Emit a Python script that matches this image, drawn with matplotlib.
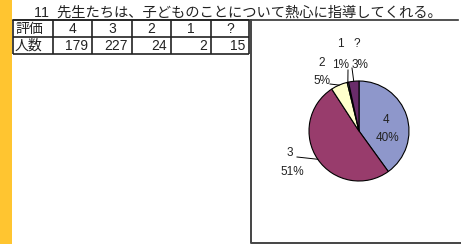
import matplotlib.pyplot as plt
from matplotlib.patches import Rectangle
import numpy as np

plt.rcParams['font.family'] = ['Liberation Sans', 'Noto Sans CJK JP']

# Données du graphique
titre = "11  先生たちは、子どものことについて熱心に指導してくれる。"
entetes = ["評価", "人数"]
hyouka = ["4", "3", "2", "1", "?"]
ninzuu = [179, 227, 24, 2, 15]
pourcentages = ["40%", "51%", "5%", "1%", "3%"]
couleurs = ["#8E97CB", "#983C6C", "#FFFFCC", "#CCFFFF", "#6A2C6A"]

W, H = 461, 244
fig = plt.figure(figsize=(W / 100, H / 100), dpi=100)

# Fond en coordonnées pixels
fond = fig.add_axes([0, 0, 1, 1])
fond.set_xlim(0, W)
fond.set_ylim(H, 0)
fond.axis("off")

# bande jaune à gauche
fond.add_patch(Rectangle((0, 0), 12, H, color="#FFC530", lw=0))

# titre et soulignement
fond.text(34, 16.5, titre, fontsize=10.3, color="#222222", va="baseline")
fond.plot([13, 458], [19.5, 19.5], color="#333333", lw=1.2)

# tableau
cols = [13, 53, 92, 132, 171, 211, 249]
rows = [20, 37, 54]
fond.hlines(rows, cols[0], cols[-1], color="#222222", lw=1.2)
fond.vlines(cols, rows[0], rows[-1], color="#222222", lw=1.2)
for r, ent in enumerate(entetes):
    fond.text(cols[0] + 2, (rows[r] + rows[r + 1]) / 2 + 0.5, ent,
              fontsize=10, va="center", ha="left", color="#222222")
for i in range(len(hyouka)):
    fond.text((cols[i + 1] + cols[i + 2]) / 2, (rows[0] + rows[1]) / 2 + 0.5,
              hyouka[i], fontsize=10, va="center", ha="center", color="#222222")
    fond.text(cols[i + 2] - 4, (rows[1] + rows[2]) / 2 + 0.5,
              str(ninzuu[i]), fontsize=10, va="center", ha="right", color="#222222")

# cadre du graphique
fond.plot([250.5, 250.5, W], [20, 243, 243], color="#444444", lw=1.4)

# camembert
cx, cy, R = 359, 131, 50
ax = fig.add_axes([(cx - R) / W, 1 - (cy + R) / H, 2 * R / W, 2 * R / H])
parts, _ = ax.pie(ninzuu, colors=couleurs, startangle=90, counterclock=False,
                  wedgeprops=dict(edgecolor="black", linewidth=0.8))
ax.set_xlim(-1, 1)
ax.set_ylim(-1, 1)
ax.axis("off")


def px2pie(x, y):
    return (x - cx) / R, (cy - y) / R


# étiquettes (catégorie, pourcentage) et départ des lignes de rappel
pos_cat = [(386, 120), (290, 153), (322, 63), (340, 44), (357, 44)]
pos_pct = [(387, 138), (292, 172), (322, 81), (341, 65), (360, 65)]
depart = [None, (297, 157), (330, 84), (348, 70), (352, 68)]

for i, w in enumerate(parts):
    ax.text(*px2pie(*pos_cat[i]), hyouka[i], fontsize=8.5, ha="center",
            va="center", color="#222222")
    ax.text(*px2pie(*pos_pct[i]), pourcentages[i], fontsize=8.5, ha="center",
            va="center", color="#222222")
    if depart[i] is not None:
        ang = np.deg2rad((w.theta1 + w.theta2) / 2)
        x0, y0 = px2pie(*depart[i])
        ax.plot([x0, np.cos(ang)], [y0, np.sin(ang)], color="black", lw=0.7,
                clip_on=False)

fig.savefig("out.png", dpi=100)
